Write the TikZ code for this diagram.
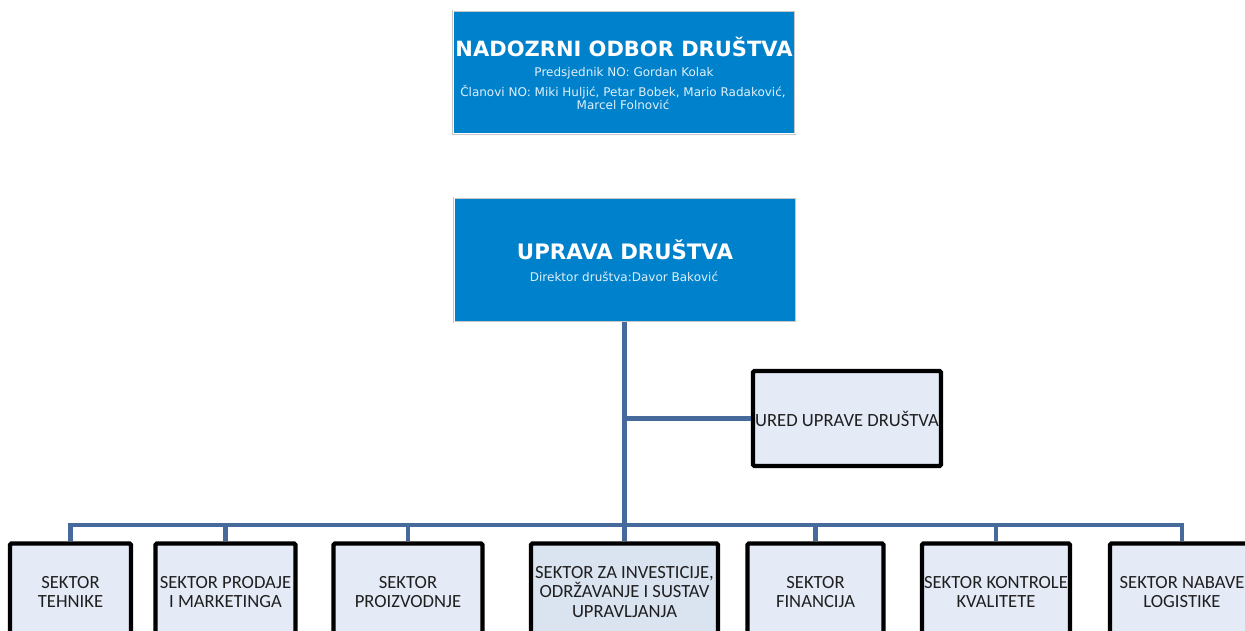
\documentclass[tikz,border=0pt]{standalone}
\usepackage{fontspec}
\setmainfont{Carlito}
\newfontfamily\vfont{DejaVu Sans}
\definecolor{nblue}{RGB}{0,129,204}
\definecolor{lnk}{RGB}{70,106,155}
\definecolor{sfill}{RGB}{228,234,246}
\definecolor{sfillb}{RGB}{218,227,240}
\begin{document}
\begin{tikzpicture}[x=1pt,y=-1pt,
 bluebox/.style={draw=black!22, double=white, double distance=1pt, line width=0.7pt, fill=nblue, inner sep=0pt},
 sect/.style={draw=black, line width=4.3pt, rounded corners=1.5pt, fill=sfill, inner sep=0pt, align=center, font=\fontsize{18.6}{19.5}\selectfont, text=black!88},
 conn/.style={draw=lnk, line width=4.2pt},
 ttl/.style={text=white, font=\vfont\bfseries\fontsize{21}{24}\selectfont, inner sep=0pt},
 sub/.style={text=white!88!nblue, font=\vfont\fontsize{12}{12}\selectfont, inner sep=0pt, align=center}]
\useasboundingbox (0,0) rectangle (1245,631);
\clip (0,0) rectangle (1245,631);
\fill[white] (0,0) rectangle (1245,631);

% top boxes
\node[bluebox, minimum width=342pt, minimum height=123pt] (nadzor) at (624,72.5) {};
\node[ttl] (nadzorT) at (624,46.5) {NADOZRNI ODBOR DRUŠTVA};
\node[sub] (nadzorA) at (624,73.5) {Predsjednik NO: Gordan Kolak};
\node[sub] (nadzorB) at (623,97.5) {Članovi NO: Miki Huljić, Petar Bobek, Mario Radaković,\\Marcel Folnović};

\node[bluebox, minimum width=342pt, minimum height=124pt] (uprava) at (625,260) {};
\node[ttl, font=\vfont\bfseries\fontsize{21.3}{24}\selectfont] (upravaT) at (625,249.5) {UPRAVA DRUŠTVA};
\node[sub] (upravaA) at (624,276.5) {Direktor društva:Davor Baković};

% office
\node[sect, minimum width=188pt, minimum height=95pt] (ured) at (847,418.5) {URED UPRAVE DRUŠTVA};

% sectors
\node[sect, minimum width=121pt, minimum height=97pt] (s1) at (70.5,592) {SEKTOR\\TEHNIKE};
\node[sect, minimum width=140pt, minimum height=97pt] (s2) at (225.5,592) {SEKTOR PRODAJE\\I MARKETINGA};
\node[sect, minimum width=149pt, minimum height=97pt] (s3) at (408,592) {SEKTOR\\PROIZVODNJE};
\node[sect, fill=sfillb, minimum width=187pt, minimum height=97pt] (s4) at (624.5,592) {SEKTOR ZA INVESTICIJE,\\ODRŽAVANJE I SUSTAV\\UPRAVLJANJA};
\node[sect, minimum width=136pt, minimum height=97pt] (s5) at (815.5,592) {SEKTOR\\FINANCIJA};
\node[sect, minimum width=148pt, minimum height=97pt] (s6) at (996,592) {SEKTOR KONTROLE\\KVALITETE};
\node[sect, minimum width=144pt, minimum height=97pt] (s7) at (1182,592) {SEKTOR NABAVE\\LOGISTIKE};

% connectors
\coordinate (bus) at (624.5,525);
\draw[conn] (uprava.south -| bus) -- (bus);
\draw[conn] (ured.west -| bus) -- (ured.west);
\draw[conn] (s1.north) -- (s1.north |- bus) -- (s7.north |- bus) -- (s7.north);
\foreach \s in {s2,s3,s4,s5,s6} \draw[conn] (\s.north |- bus) -- (\s.north);
\end{tikzpicture}
\end{document}
